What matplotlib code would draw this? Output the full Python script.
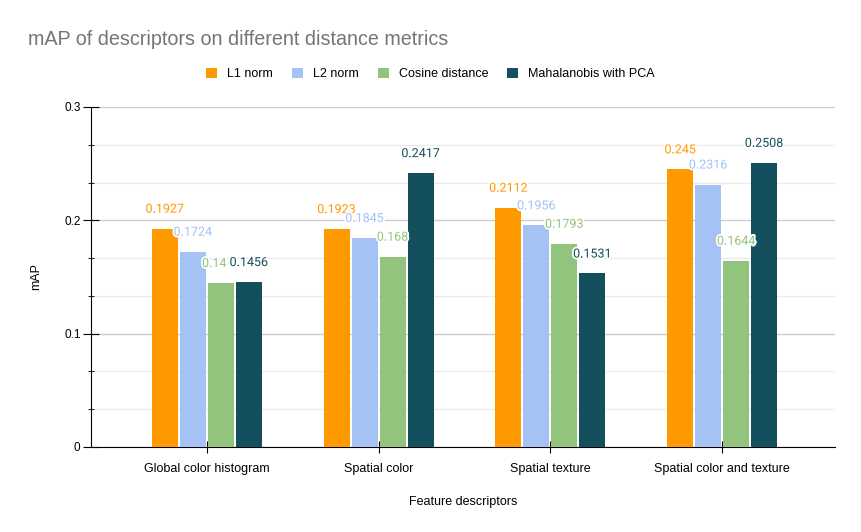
import matplotlib
matplotlib.use("Agg")
import matplotlib.pyplot as plt
import matplotlib.patheffects as pe
import numpy as np
from matplotlib.ticker import MultipleLocator

# Chart data
descriptors = ["Global color histogram", "Spatial color", "Spatial texture",
               "Spatial color and texture"]
metrics = ["L1 norm", "L2 norm", "Cosine distance", "Mahalanobis with PCA"]
l1_norm = [0.1927, 0.1923, 0.2112, 0.245]
l2_norm = [0.1724, 0.1845, 0.1956, 0.2316]
cosine = [0.1447, 0.168, 0.1793, 0.1644]
mahalanobis = [0.1456, 0.2417, 0.1531, 0.2508]
series = [l1_norm, l2_norm, cosine, mahalanobis]
colors = ["#ff9900", "#a4c2f4", "#93c47d", "#134f5c"]

# value labels as printed on the chart (one is cut short by its neighbour)
labels = [[f"{v:.4g}" for v in s] for s in series]
labels[2][0] = "0.14"

plt.rcParams["font.family"] = ["Liberation Sans", "DejaVu Sans"]

fig = plt.figure(figsize=(8.61, 5.32), dpi=100)
ax = fig.add_axes([0.1057, 0.1598, 0.8641, 0.6391])

x = np.arange(len(descriptors))
bar_w = 0.152
step = 0.163
offsets = (np.arange(len(series)) - 1.5) * step
halo = [pe.withStroke(linewidth=2.5, foreground="white")]

for i, (vals, col, name) in enumerate(zip(series, colors, metrics)):
    xs = x + offsets[i]
    ax.bar(xs, vals, width=bar_w, color=col, label=name, zorder=3)
    for xv, v, txt in zip(xs, vals, labels[i]):
        full = f"{v:.4g}"
        if txt != full:
            # cut label keeps the left edge of the full one
            ha, dx = "left", -13.5
        else:
            ha, dx = "center", 0
        ax.annotate(txt, (xv, v), xytext=(dx, 14), textcoords="offset points",
                    ha=ha, va="center", color=col, fontsize=9,
                    family=["Roboto", "DejaVu Sans"], zorder=4 + i,
                    path_effects=halo)

ax.set_xlim(-0.674, 3.657)
ax.set_ylim(0, 0.3)
ax.yaxis.set_major_locator(MultipleLocator(0.1))
ax.yaxis.set_minor_locator(MultipleLocator(0.1 / 3))
ax.set_yticks([0, 0.1, 0.2, 0.3])
ax.set_yticklabels(["0", "0.1", "0.2", "0.3"])
ax.grid(axis="y", which="major", color="#cccccc", linewidth=1, zorder=0)
ax.grid(axis="y", which="minor", color="#ebebeb", linewidth=1, zorder=0)
ax.set_xticks(x)
ax.set_xticklabels(descriptors)

for side in ["top", "right"]:
    ax.spines[side].set_visible(False)
ax.spines["left"].set_color("black")
ax.spines["bottom"].set_color("black")
ax.tick_params(axis="y", which="major", direction="inout", length=11, labelsize=8.5,
               colors="black", pad=2)
ax.tick_params(axis="y", which="minor", direction="inout", length=5, colors="black")
ax.tick_params(axis="x", direction="inout", length=9, labelsize=9, pad=7)

ax.set_xlabel("Feature descriptors", fontsize=9, labelpad=15)
ax.set_ylabel("mAP", fontsize=9, labelpad=16)

fig.text(0.033, 0.925, "mAP of descriptors on different distance metrics",
         fontsize=14.2, color="#757575", va="center", ha="left")

fig.legend(loc="center", bbox_to_anchor=(0.5, 0.861), ncol=4, frameon=False,
           fontsize=9, handlelength=0.9, handleheight=0.9, handletextpad=0.8,
           columnspacing=1.5)

fig.savefig("out.png", dpi=100)
